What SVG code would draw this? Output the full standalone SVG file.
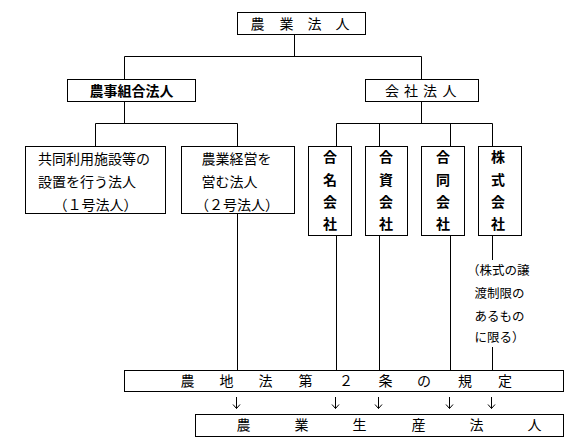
<svg xmlns="http://www.w3.org/2000/svg" width="572" height="447" viewBox="0 0 572 447">
<style>
  .box { fill: #fff; stroke: #000; stroke-width: 1; }
  .ln { fill: none; stroke: #000; stroke-width: 1; }
  .arr { fill: none; stroke: #000; stroke-width: 1; }
  text { font-family: "Noto Sans CJK JP", "Noto Sans CJK SC", sans-serif; font-size: 14px; fill: #000; }
  .b { font-weight: bold; }
  .m { text-anchor: middle; }
  .s { font-size: 12.5px; }
</style>
<rect width="572" height="447" fill="#fff"/>
<g id="connectors">
  <path class="ln" d="M294.5 34.5V56.5 M124.5 56.5H421.5 M124.5 56.5V79.5 M421.5 56.5V79.5"/>
  <path class="ln" d="M124.5 101.5V123.5 M95.5 123.5H237.5 M95.5 123.5V146.5 M237.5 123.5V146.5"/>
  <path class="ln" d="M421.5 101.5V123.5 M336.5 123.5H492.5 M336.5 123.5V146.5 M379.5 123.5V146.5 M450.5 123.5V146.5 M492.5 123.5V146.5"/>
  <path class="ln" d="M237.5 213.5V370.5 M336.5 235.5V370.5 M379.5 235.5V370.5 M450.5 235.5V370.5 M492.5 235.5V260 M492.5 347V370.5"/>
  <path class="arr" d="M236.5 397V408.5 M233 404.5L236.5 408.5L240 404.5"/>
  <path class="arr" d="M335.5 397V408.5 M332 404.5L335.5 408.5L339 404.5"/>
  <path class="arr" d="M378.5 397V408.5 M375 404.5L378.5 408.5L382 404.5"/>
  <path class="arr" d="M449.5 397V408.5 M446 404.5L449.5 408.5L453 404.5"/>
  <path class="arr" d="M491.5 397V408.5 M488 404.5L491.5 408.5L495 404.5"/>
</g>
<g id="nogyo-hojin">
  <rect class="box" x="237.5" y="12.5" width="128" height="22"/>
  <text class="m" x="257.5 286.5 314.5 342.5" y="28.5">農業法人</text>
</g>
<g id="noji-kumiai-hojin">
  <rect class="box" x="67.5" y="79.5" width="128" height="22"/>
  <text class="m b" x="131.5" y="95.5">農事組合法人</text>
</g>
<g id="kaisha-hojin">
  <rect class="box" x="365.5" y="79.5" width="113" height="22"/>
  <text class="m" x="392 411 430 449.5" y="95.5">会社法人</text>
</g>
<g id="gou1">
  <rect class="box" x="25.5" y="146.5" width="140" height="67"/>
  <text x="38" y="163.5">共同利用施設等の</text>
  <text x="38" y="187">設置を行う法人</text>
  <text class="m" x="95.5" y="209.5">（１号法人）</text>
</g>
<g id="gou2">
  <rect class="box" x="181.5" y="146.5" width="113" height="67"/>
  <text x="201.5" y="163.5">農業経営を</text>
  <text x="201.5" y="187">営む法人</text>
  <text class="m" x="237" y="209.5">（２号法人）</text>
</g>
<g id="gomei">
  <rect class="box" x="308.5" y="146.5" width="43" height="89"/>
  <text class="m b" x="330" y="161.5">合</text>
  <text class="m b" x="330" y="184.5">名</text>
  <text class="m b" x="330" y="207">会</text>
  <text class="m b" x="330" y="229">社</text>
</g>
<g id="goshi">
  <rect class="box" x="365.5" y="146.5" width="42" height="89"/>
  <text class="m b" x="386" y="161.5">合</text>
  <text class="m b" x="386" y="184.5">資</text>
  <text class="m b" x="386" y="207">会</text>
  <text class="m b" x="386" y="229">社</text>
</g>
<g id="godo">
  <rect class="box" x="421.5" y="146.5" width="43" height="89"/>
  <text class="m b" x="443" y="161.5">合</text>
  <text class="m b" x="443" y="184.5">同</text>
  <text class="m b" x="443" y="207">会</text>
  <text class="m b" x="443" y="229">社</text>
</g>
<g id="kabushiki">
  <rect class="box" x="478.5" y="146.5" width="43" height="89"/>
  <text class="m b" x="498" y="161.5">株</text>
  <text class="m b" x="498" y="184.5">式</text>
  <text class="m b" x="498" y="207">会</text>
  <text class="m b" x="498" y="229">社</text>
</g>
<g id="kabushiki-note">
  <text class="s" x="467" y="274.5">（株式の譲</text>
  <text class="s" x="474.5" y="298">渡制限の</text>
  <text class="s" x="474.5" y="320.5">あるもの</text>
  <text class="s" x="474.5" y="341.5">に限る）</text>
</g>
<g id="nochiho">
  <rect class="box" x="124.5" y="370.5" width="439" height="21"/>
  <text class="m" x="187.5 226.5 265.5 305.5 346 385.5 424 465 505" y="386">農地法第２条の規定</text>
</g>
<g id="nogyo-seisan-hojin">
  <rect class="box" x="195.5" y="414.5" width="368" height="22"/>
  <text class="m" x="243.5 301.5 359.5 418.5 476.5 534.5" y="430">農業生産法人</text>
</g>
</svg>
